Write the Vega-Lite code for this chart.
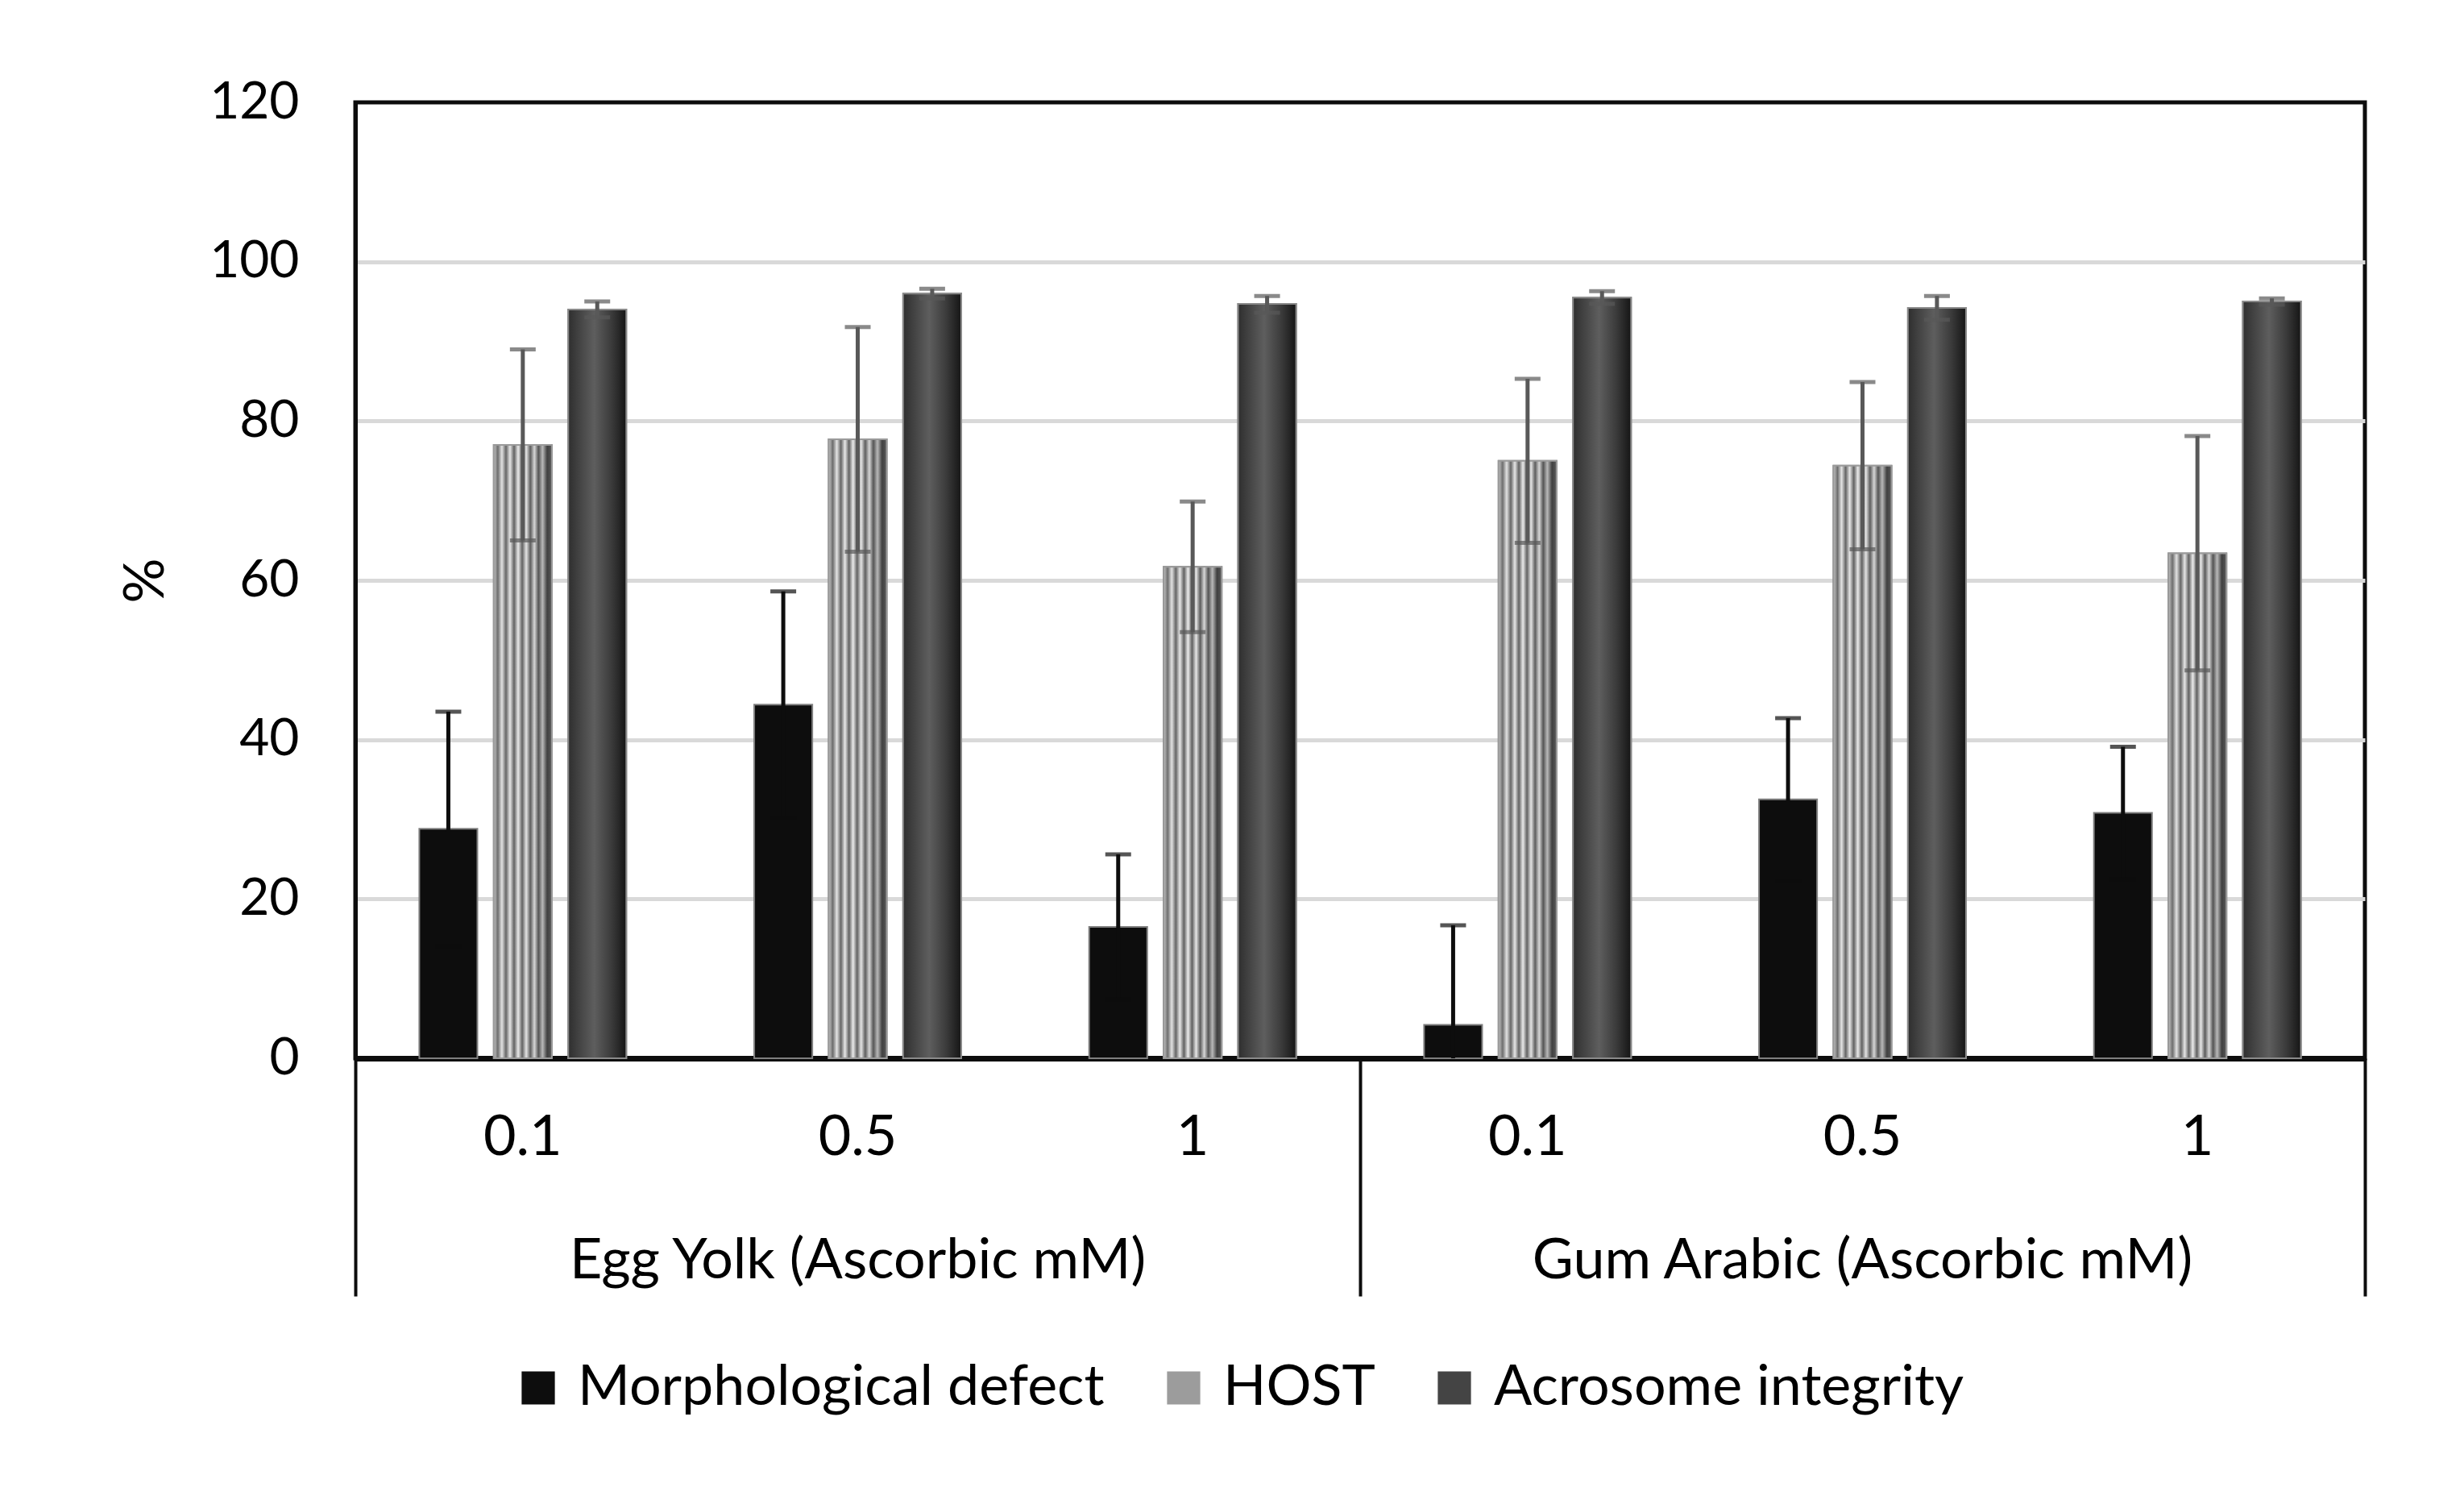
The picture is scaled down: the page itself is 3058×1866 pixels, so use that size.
{
  "$schema": "https://vega.github.io/schema/vega-lite/v6.json",
  "width": 2494,
  "height": 1186,
  "autosize": {"type": "none"},
  "padding": {"left": 441, "top": 127, "right": 123, "bottom": 553},
  "background": "white",
  "view": {"stroke": "#0d0d0d", "strokeWidth": 5},
  "config": {
    "font": "Lato",
    "view": {"stroke": "#0d0d0d", "strokeWidth": 5},
    "axis": {"labelColor": "#000000", "labelFontSize": 70, "labelFont": "Lato"}
  },
  "data": {
    "values": [
      {"group": "Egg Yolk (Ascorbic mM)", "cat": "Egg Yolk (Ascorbic mM)|0.1", "series": "Morphological defect", "mean": 28.8, "lo": 14.1, "hi": 43.5},
      {"group": "Egg Yolk (Ascorbic mM)", "cat": "Egg Yolk (Ascorbic mM)|0.1", "series": "HOST", "mean": 77.0, "lo": 65.0, "hi": 89.0},
      {"group": "Egg Yolk (Ascorbic mM)", "cat": "Egg Yolk (Ascorbic mM)|0.1", "series": "Acrosome integrity", "mean": 94.0, "lo": 93.0, "hi": 95.0},
      {"group": "Egg Yolk (Ascorbic mM)", "cat": "Egg Yolk (Ascorbic mM)|0.5", "series": "Morphological defect", "mean": 44.4, "lo": 30.2, "hi": 58.6},
      {"group": "Egg Yolk (Ascorbic mM)", "cat": "Egg Yolk (Ascorbic mM)|0.5", "series": "HOST", "mean": 77.7, "lo": 63.6, "hi": 91.8},
      {"group": "Egg Yolk (Ascorbic mM)", "cat": "Egg Yolk (Ascorbic mM)|0.5", "series": "Acrosome integrity", "mean": 96.0, "lo": 95.4, "hi": 96.6},
      {"group": "Egg Yolk (Ascorbic mM)", "cat": "Egg Yolk (Ascorbic mM)|1", "series": "Morphological defect", "mean": 16.5, "lo": 7.4, "hi": 25.6},
      {"group": "Egg Yolk (Ascorbic mM)", "cat": "Egg Yolk (Ascorbic mM)|1", "series": "HOST", "mean": 61.7, "lo": 53.5, "hi": 69.9},
      {"group": "Egg Yolk (Ascorbic mM)", "cat": "Egg Yolk (Ascorbic mM)|1", "series": "Acrosome integrity", "mean": 94.7, "lo": 93.6, "hi": 95.7},
      {"group": "Gum Arabic (Ascorbic mM)", "cat": "Gum Arabic (Ascorbic mM)|0.1", "series": "Morphological defect", "mean": 4.2, "lo": -8.3, "hi": 16.7},
      {"group": "Gum Arabic (Ascorbic mM)", "cat": "Gum Arabic (Ascorbic mM)|0.1", "series": "HOST", "mean": 75.0, "lo": 64.7, "hi": 85.3},
      {"group": "Gum Arabic (Ascorbic mM)", "cat": "Gum Arabic (Ascorbic mM)|0.1", "series": "Acrosome integrity", "mean": 95.5, "lo": 94.7, "hi": 96.3},
      {"group": "Gum Arabic (Ascorbic mM)", "cat": "Gum Arabic (Ascorbic mM)|0.5", "series": "Morphological defect", "mean": 32.5, "lo": 22.3, "hi": 42.7},
      {"group": "Gum Arabic (Ascorbic mM)", "cat": "Gum Arabic (Ascorbic mM)|0.5", "series": "HOST", "mean": 74.4, "lo": 63.9, "hi": 84.9},
      {"group": "Gum Arabic (Ascorbic mM)", "cat": "Gum Arabic (Ascorbic mM)|0.5", "series": "Acrosome integrity", "mean": 94.2, "lo": 92.7, "hi": 95.7},
      {"group": "Gum Arabic (Ascorbic mM)", "cat": "Gum Arabic (Ascorbic mM)|1", "series": "Morphological defect", "mean": 30.8, "lo": 22.5, "hi": 39.1},
      {"group": "Gum Arabic (Ascorbic mM)", "cat": "Gum Arabic (Ascorbic mM)|1", "series": "HOST", "mean": 63.4, "lo": 48.7, "hi": 78.1},
      {"group": "Gum Arabic (Ascorbic mM)", "cat": "Gum Arabic (Ascorbic mM)|1", "series": "Acrosome integrity", "mean": 95.0, "lo": 94.6, "hi": 95.4}
    ]
  },
  "layer": [
    {
      "encoding": {
        "x": {
          "field": "cat", "type": "nominal",
          "scale": {
            "domain": ["Egg Yolk (Ascorbic mM)|0.1", "Egg Yolk (Ascorbic mM)|0.5", "Egg Yolk (Ascorbic mM)|1", "Gum Arabic (Ascorbic mM)|0.1", "Gum Arabic (Ascorbic mM)|0.5", "Gum Arabic (Ascorbic mM)|1"],
            "paddingInner": 0.382, "paddingOuter": 0.191
          },
          "axis": {
            "orient": "bottom", "title": null, "ticks": false, "domain": true,
            "domainColor": "#0d0d0d", "domainWidth": 7, "labelAngle": 0,
            "labelPadding": 98, "labelBaseline": "middle",
            "labelExpr": "split(datum.value, '|')[1]", "grid": false
          }
        },
        "xOffset": {
          "field": "series", "type": "nominal",
          "scale": {"domain": ["Morphological defect", "HOST", "Acrosome integrity"], "paddingInner": 0.22, "paddingOuter": 0}
        }
      },
      "layer": [
        {
          "mark": {"type": "bar", "stroke": "#7f7f7f", "strokeWidth": 2},
          "encoding": {
            "y": {
              "field": "mean", "type": "quantitative",
              "scale": {"domain": [0, 120], "nice": false, "clamp": true},
              "axis": {
                "title": "%", "titleFontSize": 70, "titleFont": "Lato", "titleFontWeight": "normal", "titleColor": "#000000",
                "titlePadding": 42, "values": [0, 20, 40, 60, 80, 100, 120],
                "ticks": false, "domain": true, "domainColor": "#0d0d0d", "domainWidth": 5,
                "labelPadding": 70, "labelFontSize": 64,
                "grid": true, "gridWidth": 5,
                "gridColor": {"condition": {"test": "datum.value === 120 || datum.value === 0", "value": "transparent"}, "value": "#d9d9d9"}
              }
            },
            "color": {
              "field": "series", "type": "nominal",
              "scale": {"domain": ["Morphological defect", "HOST", "Acrosome integrity"], "range": ["#0d0d0d", "#9c9c9c", "#444444"]},
              "legend": {
                "title": null, "orient": "none", "direction": "horizontal",
                "legendX": 192, "legendY": 1560,
                "symbolType": "square", "symbolSize": 1700, "symbolStrokeWidth": 0,
                "labelFontSize": 70, "labelFont": "Lato", "labelColor": "#000000",
                "labelLimit": 1200, "labelOffset": 14, "columnPadding": 63
              }
            }
          }
        },
        {
          "transform": [{"filter": "datum.series === 'HOST'"}],
          "mark": {
            "type": "bar", "stroke": "#9a9a9a", "strokeWidth": 2,
            "color": {"gradient": "linear", "x1": 0, "x2": 1, "y1": 0, "y2": 0,
              "stops": [
                {"offset": 0, "color": "#c8c8c8"}, {"offset": 0.07, "color": "#6e6e6e"},
                {"offset": 0.14, "color": "#e2e2e2"}, {"offset": 0.21, "color": "#666666"},
                {"offset": 0.28, "color": "#e6e6e6"}, {"offset": 0.35, "color": "#626262"},
                {"offset": 0.42, "color": "#eaeaea"}, {"offset": 0.49, "color": "#626262"},
                {"offset": 0.56, "color": "#e4e4e4"}, {"offset": 0.63, "color": "#5e5e5e"},
                {"offset": 0.70, "color": "#d6d6d6"}, {"offset": 0.77, "color": "#555555"},
                {"offset": 0.84, "color": "#b8b8b8"}, {"offset": 0.92, "color": "#404040"},
                {"offset": 1, "color": "#5a5a5a"}
              ]}
          },
          "encoding": {"y": {"field": "mean", "type": "quantitative"}}
        },
        {
          "transform": [{"filter": "datum.series === 'Acrosome integrity'"}],
          "mark": {
            "type": "bar", "stroke": "#8a8a8a", "strokeWidth": 2,
            "color": {"gradient": "linear", "x1": 0, "x2": 1, "y1": 0, "y2": 0,
              "stops": [{"offset": 0, "color": "#2e2e2e"}, {"offset": 0.15, "color": "#3f3f3f"}, {"offset": 0.45, "color": "#5e5e5e"}, {"offset": 0.75, "color": "#3a3a3a"}, {"offset": 1, "color": "#151515"}]}
          },
          "encoding": {"y": {"field": "mean", "type": "quantitative"}}
        },
        {
          "mark": {"type": "rule", "strokeWidth": 5},
          "encoding": {
            "y": {"field": "lo", "type": "quantitative"},
            "y2": {"field": "hi"},
            "color": {"condition": {"test": "datum.series === 'Morphological defect'", "value": "#0d0d0d"}, "value": "#595959"}
          }
        },
        {
          "mark": {"type": "tick", "size": 32, "thickness": 5},
          "encoding": {
            "y": {"field": "hi", "type": "quantitative"},
            "color": {"condition": {"test": "datum.series === 'Morphological defect'", "value": "#0d0d0d"}, "value": "#595959"}
          }
        },
        {
          "transform": [{"filter": "datum.lo > 0"}],
          "mark": {"type": "tick", "size": 32, "thickness": 5},
          "encoding": {
            "y": {"field": "lo", "type": "quantitative"},
            "color": {"condition": {"test": "datum.series === 'Morphological defect'", "value": "#0d0d0d"}, "value": "#595959"}
          }
        }
      ]
    },
    {
      "mark": {"type": "bar", "opacity": 0},
      "encoding": {
        "x": {
          "field": "group", "type": "nominal",
          "scale": {"domain": ["Egg Yolk (Ascorbic mM)", "Gum Arabic (Ascorbic mM)"], "paddingInner": 0, "paddingOuter": 0},
          "axis": {
            "orient": "bottom", "title": null, "domain": false, "labels": false, "grid": false,
            "ticks": true, "tickSize": 295, "tickWidth": 4, "tickColor": "#0d0d0d",
            "bandPosition": 1, "tickExtra": true
          }
        }
      }
    },
    {
      "mark": {"type": "bar", "opacity": 0},
      "encoding": {
        "x": {
          "field": "group", "type": "nominal",
          "scale": {"domain": ["Egg Yolk (Ascorbic mM)", "Gum Arabic (Ascorbic mM)"], "paddingInner": 0, "paddingOuter": 0},
          "axis": {
            "orient": "bottom", "title": null, "domain": false, "ticks": false, "grid": false,
            "labelAngle": 0, "labelPadding": 251, "labelBaseline": "middle", "labelLimit": 1200
          }
        }
      }
    }
  ],
  "resolve": {"scale": {"x": "independent"}, "axis": {"x": "independent"}}
}
